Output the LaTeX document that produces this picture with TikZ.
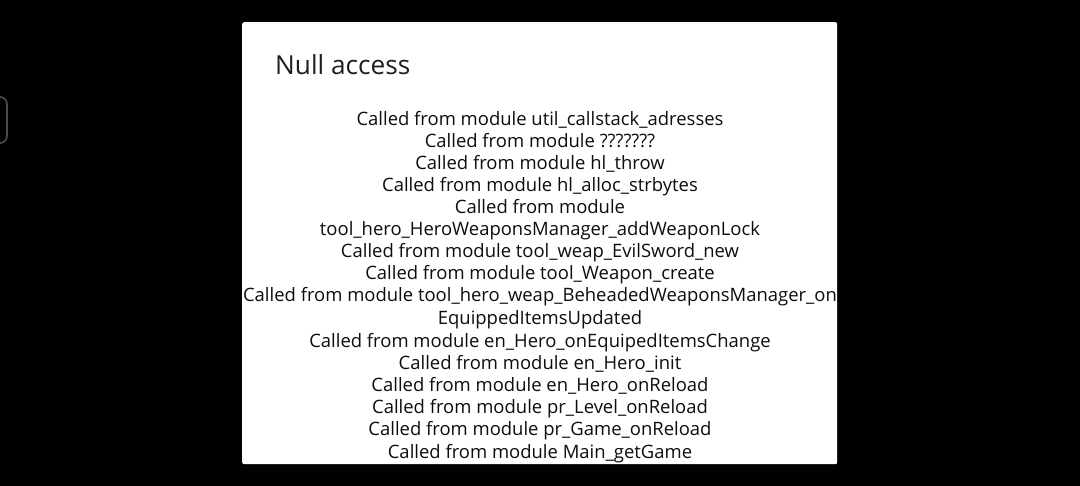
\documentclass[tikz,border=0pt]{standalone}
\usepackage{fontspec}
\setmainfont{Open Sans}
\begin{document}
\begin{tikzpicture}[x=1pt,y=-1pt,
  line/.style={anchor=base, inner sep=0pt, text=black!95, font=\fontsize{18.45}{22}\selectfont},
  title/.style={anchor=base west, inner sep=0pt, text=black!88, font=\fontsize{26.2}{30}\selectfont}]
\fill[black] (0,0) rectangle (1080,486);
\useasboundingbox (0,0) rectangle (1080,486);
\draw[gray!60!black, line width=1.6pt, rounded corners=7pt] (-30,97) rectangle (7,143);
\node[fill=white, rounded corners=2pt, minimum width=595pt, minimum height=442pt, anchor=north west, inner sep=0pt] (box) at (242,22) {};
\node[title] (t) at (275,75) {Null access};
\node[line] (l1) at (540,126) {Called from module util\_callstack\_adresses};
\node[line] (l2) at (540,148) {Called from module ???????};
\node[line] (l3) at (540,170) {Called from module hl\_throw};
\node[line] (l4) at (540,192) {Called from module hl\_alloc\_strbytes};
\node[line] (l5) at (540,214) {Called from module};
\node[line] (l6) at (540,236) {tool\_hero\_HeroWeaponsManager\_addWeaponLock};
\node[line] (l7) at (540,258) {Called from module tool\_weap\_EvilSword\_new};
\node[line] (l8) at (540,280) {Called from module tool\_Weapon\_create};
\node[line] (l9) at (540,302) {Called from module tool\_hero\_weap\_BeheadedWeaponsManager\_on};
\node[line] (l10) at (540,325) {EquippedItemsUpdated};
\node[line] (l11) at (540,348) {Called from module en\_Hero\_onEquipedItemsChange};
\node[line] (l12) at (540,370) {Called from module en\_Hero\_init};
\node[line] (l13) at (540,392) {Called from module en\_Hero\_onReload};
\node[line] (l14) at (540,414) {Called from module pr\_Level\_onReload};
\node[line] (l15) at (540,436) {Called from module pr\_Game\_onReload};
\node[line] (l16) at (540,458) {Called from module Main\_getGame};
\end{tikzpicture}
\end{document}
